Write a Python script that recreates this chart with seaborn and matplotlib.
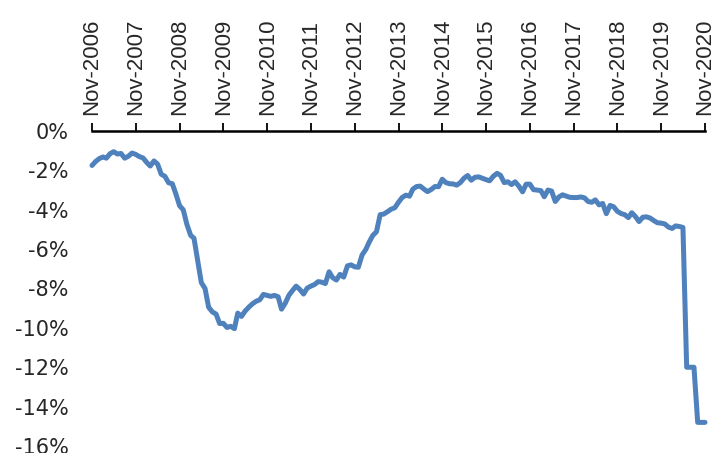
import matplotlib
matplotlib.use("Agg")
import matplotlib.pyplot as plt
import matplotlib.dates as mdates
from matplotlib.ticker import FuncFormatter
import numpy as np
import pandas as pd
import seaborn as sns

# Monthly series, Nov-2006 .. Nov-2020 (percent)
start_month = "2006-11-01"
values = [
    -1.75, -1.55, -1.40, -1.32, -1.38, -1.15, -1.05, -1.17, -1.14, -1.38, -1.28, -1.12,
    -1.19, -1.30, -1.37, -1.60, -1.78, -1.52, -1.68, -2.20, -2.30, -2.63, -2.68, -3.20,
    -3.80, -4.00, -4.75, -5.30, -5.45, -6.60, -7.70, -8.00, -8.95, -9.19, -9.30, -9.78,
    -9.77, -9.98, -9.92, -10.04, -9.25, -9.42, -9.15, -8.95, -8.78, -8.65, -8.57, -8.30,
    -8.35, -8.40, -8.35, -8.42, -9.05, -8.75, -8.35, -8.10, -7.88, -8.05, -8.28, -7.98,
    -7.88, -7.80, -7.65, -7.68, -7.75, -7.15, -7.45, -7.57, -7.28, -7.42, -6.85, -6.80,
    -6.90, -6.92, -6.30, -6.02, -5.65, -5.30, -5.12, -4.25, -4.22, -4.10, -3.97, -3.90,
    -3.62, -3.38, -3.26, -3.31, -2.95, -2.82, -2.80, -2.95, -3.08, -2.97, -2.82, -2.83,
    -2.45, -2.62, -2.68, -2.69, -2.75, -2.62, -2.40, -2.26, -2.50, -2.35, -2.33, -2.40,
    -2.47, -2.53, -2.30, -2.15, -2.25, -2.62, -2.58, -2.72, -2.58, -2.80, -3.09, -2.70,
    -2.70, -2.98, -3.00, -3.03, -3.34, -3.00, -3.05, -3.58, -3.35, -3.24, -3.31, -3.37,
    -3.38, -3.38, -3.35, -3.40, -3.58, -3.62, -3.50, -3.75, -3.68, -4.20, -3.78, -3.85,
    -4.08, -4.19, -4.25, -4.40, -4.15, -4.35, -4.60, -4.38, -4.36, -4.42, -4.55, -4.66,
    -4.68, -4.72, -4.88, -4.95, -4.82, -4.85, -4.90, -12.00, -12.00, -12.00, -14.80, -14.80,
    -14.80,
]
y_ticks = [0, -2, -4, -6, -8, -10, -12, -14, -16]

dates = pd.date_range(start_month, periods=len(values), freq="MS")
df = pd.DataFrame({"month": dates, "value": values})

sns.set_style("white")
plt.rcParams["font.family"] = ["DejaVu Sans"]

fig = plt.figure(figsize=(7.15, 4.53), dpi=100)
ax = fig.add_axes([92 / 715, 7 / 453, (705 - 92) / 715, (446 - 131) / 453])

sns.lineplot(data=df, x="month", y="value", ax=ax, color="#4F81BD",
             linewidth=3.6, solid_capstyle="round", solid_joinstyle="round")
for ln in ax.lines:
    ln.set_clip_on(False)

ax.set_xlim(dates[0], dates[-1])
ax.set_ylim(-16, 0)
ax.set_xlabel("")
ax.set_ylabel("")

# x axis along the 0% line at the top
ax.xaxis.tick_top()
ax.xaxis.set_major_locator(mdates.MonthLocator(bymonth=11))
ax.xaxis.set_major_formatter(mdates.DateFormatter("%b-%Y"))
ax.tick_params(axis="x", which="major", direction="out", length=5.5, width=1.3,
               color="black", pad=6, labelsize=16, rotation=90)
for lbl in ax.get_xticklabels():
    lbl.set_fontfamily("Liberation Sans")

ax.set_yticks(y_ticks)
ax.yaxis.set_major_formatter(FuncFormatter(lambda v, _: f"{v:.0f}%"))
ax.tick_params(axis="y", length=0, pad=17, labelsize=15)

for side in ("left", "right", "bottom"):
    ax.spines[side].set_visible(False)
ax.spines["top"].set_visible(True)
ax.spines["top"].set_linewidth(1.8)
ax.spines["top"].set_color("black")
ax.grid(False)

fig.savefig("out.png", dpi=100)
